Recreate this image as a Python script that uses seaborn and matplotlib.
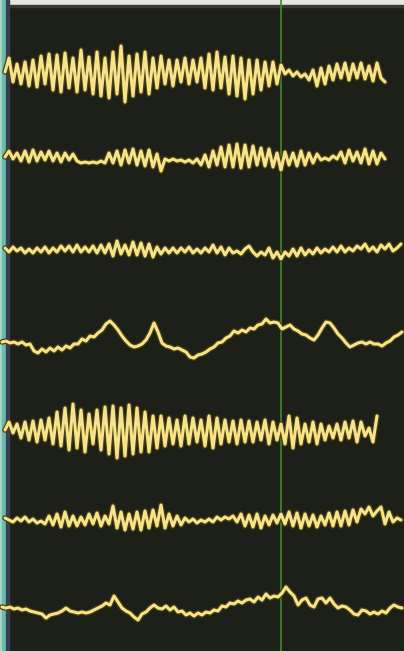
import numpy as np
import pandas as pd
import matplotlib
matplotlib.use("Agg")
import matplotlib.pyplot as plt
import seaborn as sns

# ---- data: trace offsets (pixel units, positive = upward) sampled every 4 px ----
trace1 = [0, 14, -10, 8, -12, 10, -14, 12, -15, 16, -12, 18, -18, 17, -20, 19, -16, 14, -20, 22,
          -18, 15, -22, 20, -24, 14, -26, 20, -22, 26, -30, 16, -24, 18, -20, 20, -22, 14, -16, 16,
          -12, 12, -14, 12, -10, 14, -12, 12, -10, 14, -16, 18, -18, 20, -16, 15, -22, 16, -24, 14,
          -27, 12, -22, 12, -18, 10, -14, 10, -12, 7, -2, 2, -4, 0, -5, -2, -8, 2, -14, 4,
          -12, 6, -8, 8, -6, 9, -8, 8, -6, 9, -7, 6, -9, 9, -6, -10]
trace2 = [0, 6, -2, 4, -4, 6, -5, 7, -4, 5, -3, 6, -4, 4, -5, 4, -3, 3, -4, -6,
          -5, -6, -5, -6, -4, -6, 4, -6, 6, -8, 7, -6, 8, -8, 6, -9, 7, -10, 3, -14,
          -2, -4, -2, -4, -3, -5, -3, -6, -2, -8, 2, -10, 6, -8, 10, -10, 12, -10, 13, -11,
          12, -10, 11, -8, 9, -9, 8, -10, 4, -13, 5, -8, 4, -9, 6, -8, 4, -6, 3, -3,
          -1, -3, 1, -2, 5, -6, 7, -4, 5, -6, 8, -7, 6, -7, 4, -2]
trace3 = [2, -2, 3, -1, 2, -3, 1, -3, 2, -2, 3, -3, 2, -2, 4, -1, 4, -2, 5, -2,
          3, -2, 4, -3, 5, -3, 6, -6, 9, -4, 5, -5, 8, -5, 7, -6, 6, -7, 3, -4,
          2, -3, 2, -3, 2, -2, 3, -3, 1, -3, 2, -2, 5, -3, 3, -5, 2, -3, -1, -4,
          1, 4, -2, -6, -2, -5, 2, -8, -2, -9, -2, -6, 1, -6, 2, -5, 0, -4, 2, -3,
          1, -2, 3, -2, 4, -2, 2, -1, 4, 1, 6, -1, 3, -2, 5, 1, 6, -1, 2, 6]
trace4 = [1, 2, 0, 1, -1, 1, -2, -1, -8, -10, -6, -9, -5, -8, -4, -7, -3, -5, -1, -1,
          4, 2, 7, 6, 10, 13, 19, 22, 18, 13, 7, 2, -2, -4, -3, -1, 3, 10, 20, 11,
          0, -3, -4, -6, -5, -7, -9, -14, -15, -12, -11, -9, -6, -4, 0, 1, 5, 7, 12, 10,
          13, 11, 15, 14, 18, 19, 24, 20, 21, 20, 14, 16, 18, 14, 12, 9, 8, 5, 3, 8,
          15, 21, 20, 15, 9, 5, 0, -4, -2, 0, 1, -1, 1, -1, -1, -3, 0, 2, 6, 8, 11]
trace5 = [0, 8, -3, 6, -8, 8, -10, 9, -12, 10, -10, 12, -14, 18, -16, 22, -20, 26, -18, 20,
          -22, 16, -14, 20, -20, 23, -24, 24, -28, 22, -26, 25, -24, 22, -22, 18, -22, 14, -18, 14,
          -16, 12, -14, 10, -16, 14, -14, 12, -12, 10, -16, 14, -18, 12, -14, 10, -12, 9, -14, 10,
          -12, 9, -12, 8, -10, 10, -14, 8, -10, 6, -14, 14, -18, 12, -14, 6, -12, 8, -14, 6,
          -10, 4, -8, 6, -10, 8, -8, 9, -12, 8, -6, 2, -12, 14]
trace6 = [2, 0, -2, 2, -1, 3, -2, 1, -3, -1, -4, 4, -5, 6, -7, 8, -6, 4, -6, 3,
          -5, 6, -4, 7, -6, 4, -4, 14, -8, 8, -10, 6, -9, 8, -10, 9, -8, 10, -6, 15,
          -8, 6, -6, 4, -5, 2, -2, 1, -3, 0, -2, 1, -2, 3, 0, 3, 1, 4, -2, 6,
          -6, 5, -7, 6, -8, 4, -5, 5, -3, 6, -4, 8, -6, 7, -8, 6, -6, 5, -7, 4,
          -5, 7, -6, 8, -6, 9, -5, 10, -2, 11, 6, 13, 4, 9, 13, -4, 8, -2, 2, 0]
trace7 = [1, 0, 1, -1, 0, -2, -1, -3, -4, -5, -6, -10, -7, -6, -5, -3, 0, -3, -4, -5,
          -4, -5, -4, -2, 0, 2, 5, 3, 12, 6, 0, -3, -5, -9, -12, -6, -4, 0, 3, 0,
          -1, 2, -2, 1, -4, -3, -7, -5, -8, -5, -7, -4, -5, -2, -3, 2, 1, 5, 4, 7,
          5, 8, 9, 6, 11, 8, 14, 10, 12, 11, 15, 21, 16, 12, 3, 8, 10, 3, 1, 9,
          10, 5, 10, 4, 0, 2, 1, -2, -6, -7, -2, -3, -6, -4, -6, -3, -5, 0, 3, 1, 0]

traces = [trace1, trace2, trace3, trace4, trace5, trace6, trace7]
names = ["T1", "T2", "T3", "T4", "T5", "T6", "T7"]

# ---- layout (pixel coordinates of the photo) ----
W, H = 404, 651
baselines = [72, 157, 250, 343, 430, 520, 608]
starts = [5, 5, 5, 2, 5, 5, 2]
step = 4

rows = []
for name, vals, base, x0 in zip(names, traces, baselines, starts):
    for i, v in enumerate(vals):
        rows.append({"trace": name, "x": x0 + step * i, "y": base - v})
df = pd.DataFrame(rows)

sns.set_theme(style="dark")
fig = plt.figure(figsize=(W / 100, H / 100), dpi=100)
ax = fig.add_axes([0, 0, 1, 1])
bg = "#1d2018"
ax.set_facecolor(bg)
fig.patch.set_facecolor(bg)

# photo details: top border, left teal strip, green cursor line
ax.axhspan(0, 5, color="#e6e6de", zorder=0)
ax.axhspan(5, 7, color="#3a3a34", zorder=0)
ax.axvspan(0, 2, color="#a9d6cc", zorder=0)
ax.axvspan(2, 6, color="#6cbcaa", zorder=0)
ax.axvspan(6, 9, color="#3a3c52", zorder=0)
ax.axvline(280.5, color="#3f8a2c", lw=1.2, zorder=1)

# dark outline underneath then the bright trace
sns.lineplot(data=df, x="x", y="y", units="trace", estimator=None, sort=False,
             color="#4a4012", lw=4.0, ax=ax, legend=False, zorder=2)
sns.lineplot(data=df, x="x", y="y", units="trace", estimator=None, sort=False,
             color="#f7e48a", lw=2.2, ax=ax, legend=False, zorder=3)

ax.set_xlim(0, W)
ax.set_ylim(H, 0)
ax.set_xlabel("")
ax.set_ylabel("")
ax.set_xticks([])
ax.set_yticks([])
for s in ax.spines.values():
    s.set_visible(False)

fig.savefig("out.png", dpi=100, facecolor=bg)
